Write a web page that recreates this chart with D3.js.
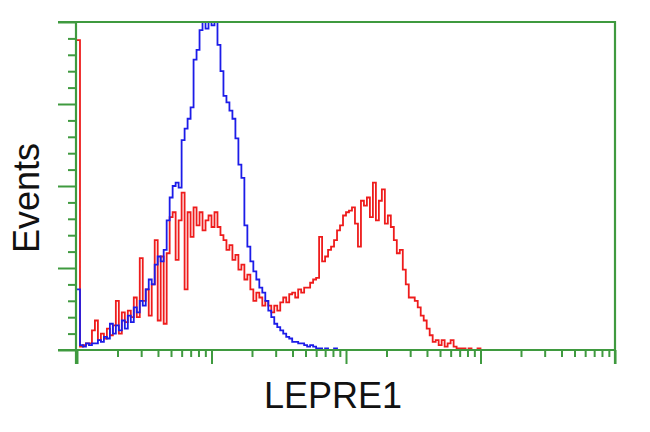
<!DOCTYPE html>
<html>
<head>
<meta charset="utf-8">
<script src="https://cdn.jsdelivr.net/npm/d3@7"></script>
<style>
  html, body { margin: 0; padding: 0; background: #fff; }
  svg { display: block; }
</style>
</head>
<body>
<svg id="chart" width="650" height="432"></svg>
<script>
// ---- data ----
const xDomain = [1, 10000];           // 4 log decades
const decadeTicks = [1, 10, 100, 1000, 10000];
const nBins = 180;                    // channels across the 4 decades
const yMajorTicks = [0, 50, 100, 150, 200];
const xLabel = "LEPRE1";
const yLabel = "Events";

// counts per channel (channel 0 = left edge)
const redCounts = [189,2,3,4,4,12,18,6,10,7,13,9,15,30,10,23,17,24,20,32,
  20,56,30,37,21,40,67,18,57,16,59,81,84,55,79,96,37,84,69,87,
  76,84,73,79,82,75,84,75,70,67,61,64,55,58,49,52,43,46,37,30,
  35,32,27,30,27,23,27,24,29,32,29,34,35,32,37,35,38,38,41,43,
  44,69,54,57,61,63,67,73,76,82,84,85,87,77,63,91,88,93,81,102,
  79,91,98,77,82,75,67,59,61,49,40,32,32,30,26,21,18,13,9,5,
  6,3,6,2,4,6,2,1,1,1,0,1,0,0,1,0,0,0,0,0];
const blueCounts = [37,3,2,4,3,4,4,6,5,8,7,16,10,15,12,18,13,21,17,26,
  23,30,27,37,43,40,52,57,54,61,79,93,100,102,99,128,135,141,148,177,
  183,195,205,196,210,198,205,186,170,155,151,146,141,129,113,105,76,63,54,48,
  43,38,35,30,24,20,16,14,12,10,8,7,5,5,4,4,3,2,3,2,
  1,1,0,1,0,0,1,0,0,0];

// ---- layout ----
const svg = d3.select("#chart");
const pL = 76, pR = 615, pT = 22, pB = 350;
const green = "#3f9a3f";

const x = d3.scaleLog().domain(xDomain).range([pL + 1, pR]);
const y = d3.scaleLinear().domain([0, 200]).range([pB, pT]);

const chan = i => Math.pow(10, Math.log10(xDomain[0]) + i * (Math.log10(xDomain[1]) - Math.log10(xDomain[0])) / nBins);

const clipId = "plotclip";
svg.append("clipPath").attr("id", clipId)
  .append("rect").attr("x", pL).attr("y", pT).attr("width", pR - pL).attr("height", pB - pT);

const line = d3.line()
  .x(d => x(chan(d.i)))
  .y(d => y(d.v))
  .curve(d3.curveStepAfter);

function seriesData(arr) { return arr.map((v, i) => ({ i, v })); }

const plot = svg.append("g").attr("clip-path", `url(#${clipId})`);
plot.append("path").datum(seriesData(redCounts))
  .attr("d", line).attr("fill", "none").attr("stroke", "#ee1c1c").attr("stroke-width", 1.8);
plot.append("path").datum(seriesData(blueCounts))
  .attr("d", line).attr("fill", "none").attr("stroke", "#1c1ce8").attr("stroke-width", 1.8);

// ---- axes ----
const minorX = [];
for (let d = 0; d < decadeTicks.length - 1; d++)
  for (let k = 2; k <= 9; k++) minorX.push(decadeTicks[d] * k);

const gx = svg.append("g").attr("transform", `translate(0,${pB})`);
gx.call(d3.axisBottom(x).tickValues(minorX).tickSize(7).tickFormat(""));
const gxM = svg.append("g").attr("transform", `translate(0,${pB})`);
gxM.call(d3.axisBottom(x).tickValues(decadeTicks).tickSize(14).tickFormat(""));

const minorY = d3.range(0, 201, 10).filter(v => v % 50 !== 0);
const gy = svg.append("g").attr("transform", `translate(${pL},0)`);
gy.call(d3.axisLeft(y).tickValues(minorY).tickSize(8).tickFormat(""));
const gyM = svg.append("g").attr("transform", `translate(${pL},0)`);
gyM.call(d3.axisLeft(y).tickValues(yMajorTicks).tickSize(18).tickFormat(""));

svg.selectAll(".domain").remove();
svg.selectAll(".tick line").attr("stroke", green).attr("stroke-width", 2);

// frame
const frame = svg.append("g").attr("stroke", green).attr("stroke-width", 2.2).attr("fill", "none");
frame.append("line").attr("x1", pL - 18).attr("x2", pR + 1).attr("y1", pT).attr("y2", pT);
frame.append("line").attr("x1", pL - 18).attr("x2", pR + 1).attr("y1", pB).attr("y2", pB);
frame.append("line").attr("x1", pL).attr("x2", pL).attr("y1", pT).attr("y2", pB + 14);
frame.append("line").attr("x1", pR).attr("x2", pR).attr("y1", pT - 1).attr("y2", pB + 14);

// labels
svg.append("text").text(xLabel)
  .attr("x", 333).attr("y", 408).attr("text-anchor", "middle")
  .attr("font-family", "Liberation Sans, Arial, sans-serif").attr("font-size", 36).attr("fill", "#111");
svg.append("text").text(yLabel)
  .attr("transform", "translate(39,198) rotate(-90)").attr("text-anchor", "middle")
  .attr("font-family", "Liberation Sans, Arial, sans-serif").attr("font-size", 36).attr("fill", "#111");
</script>
</body>
</html>
